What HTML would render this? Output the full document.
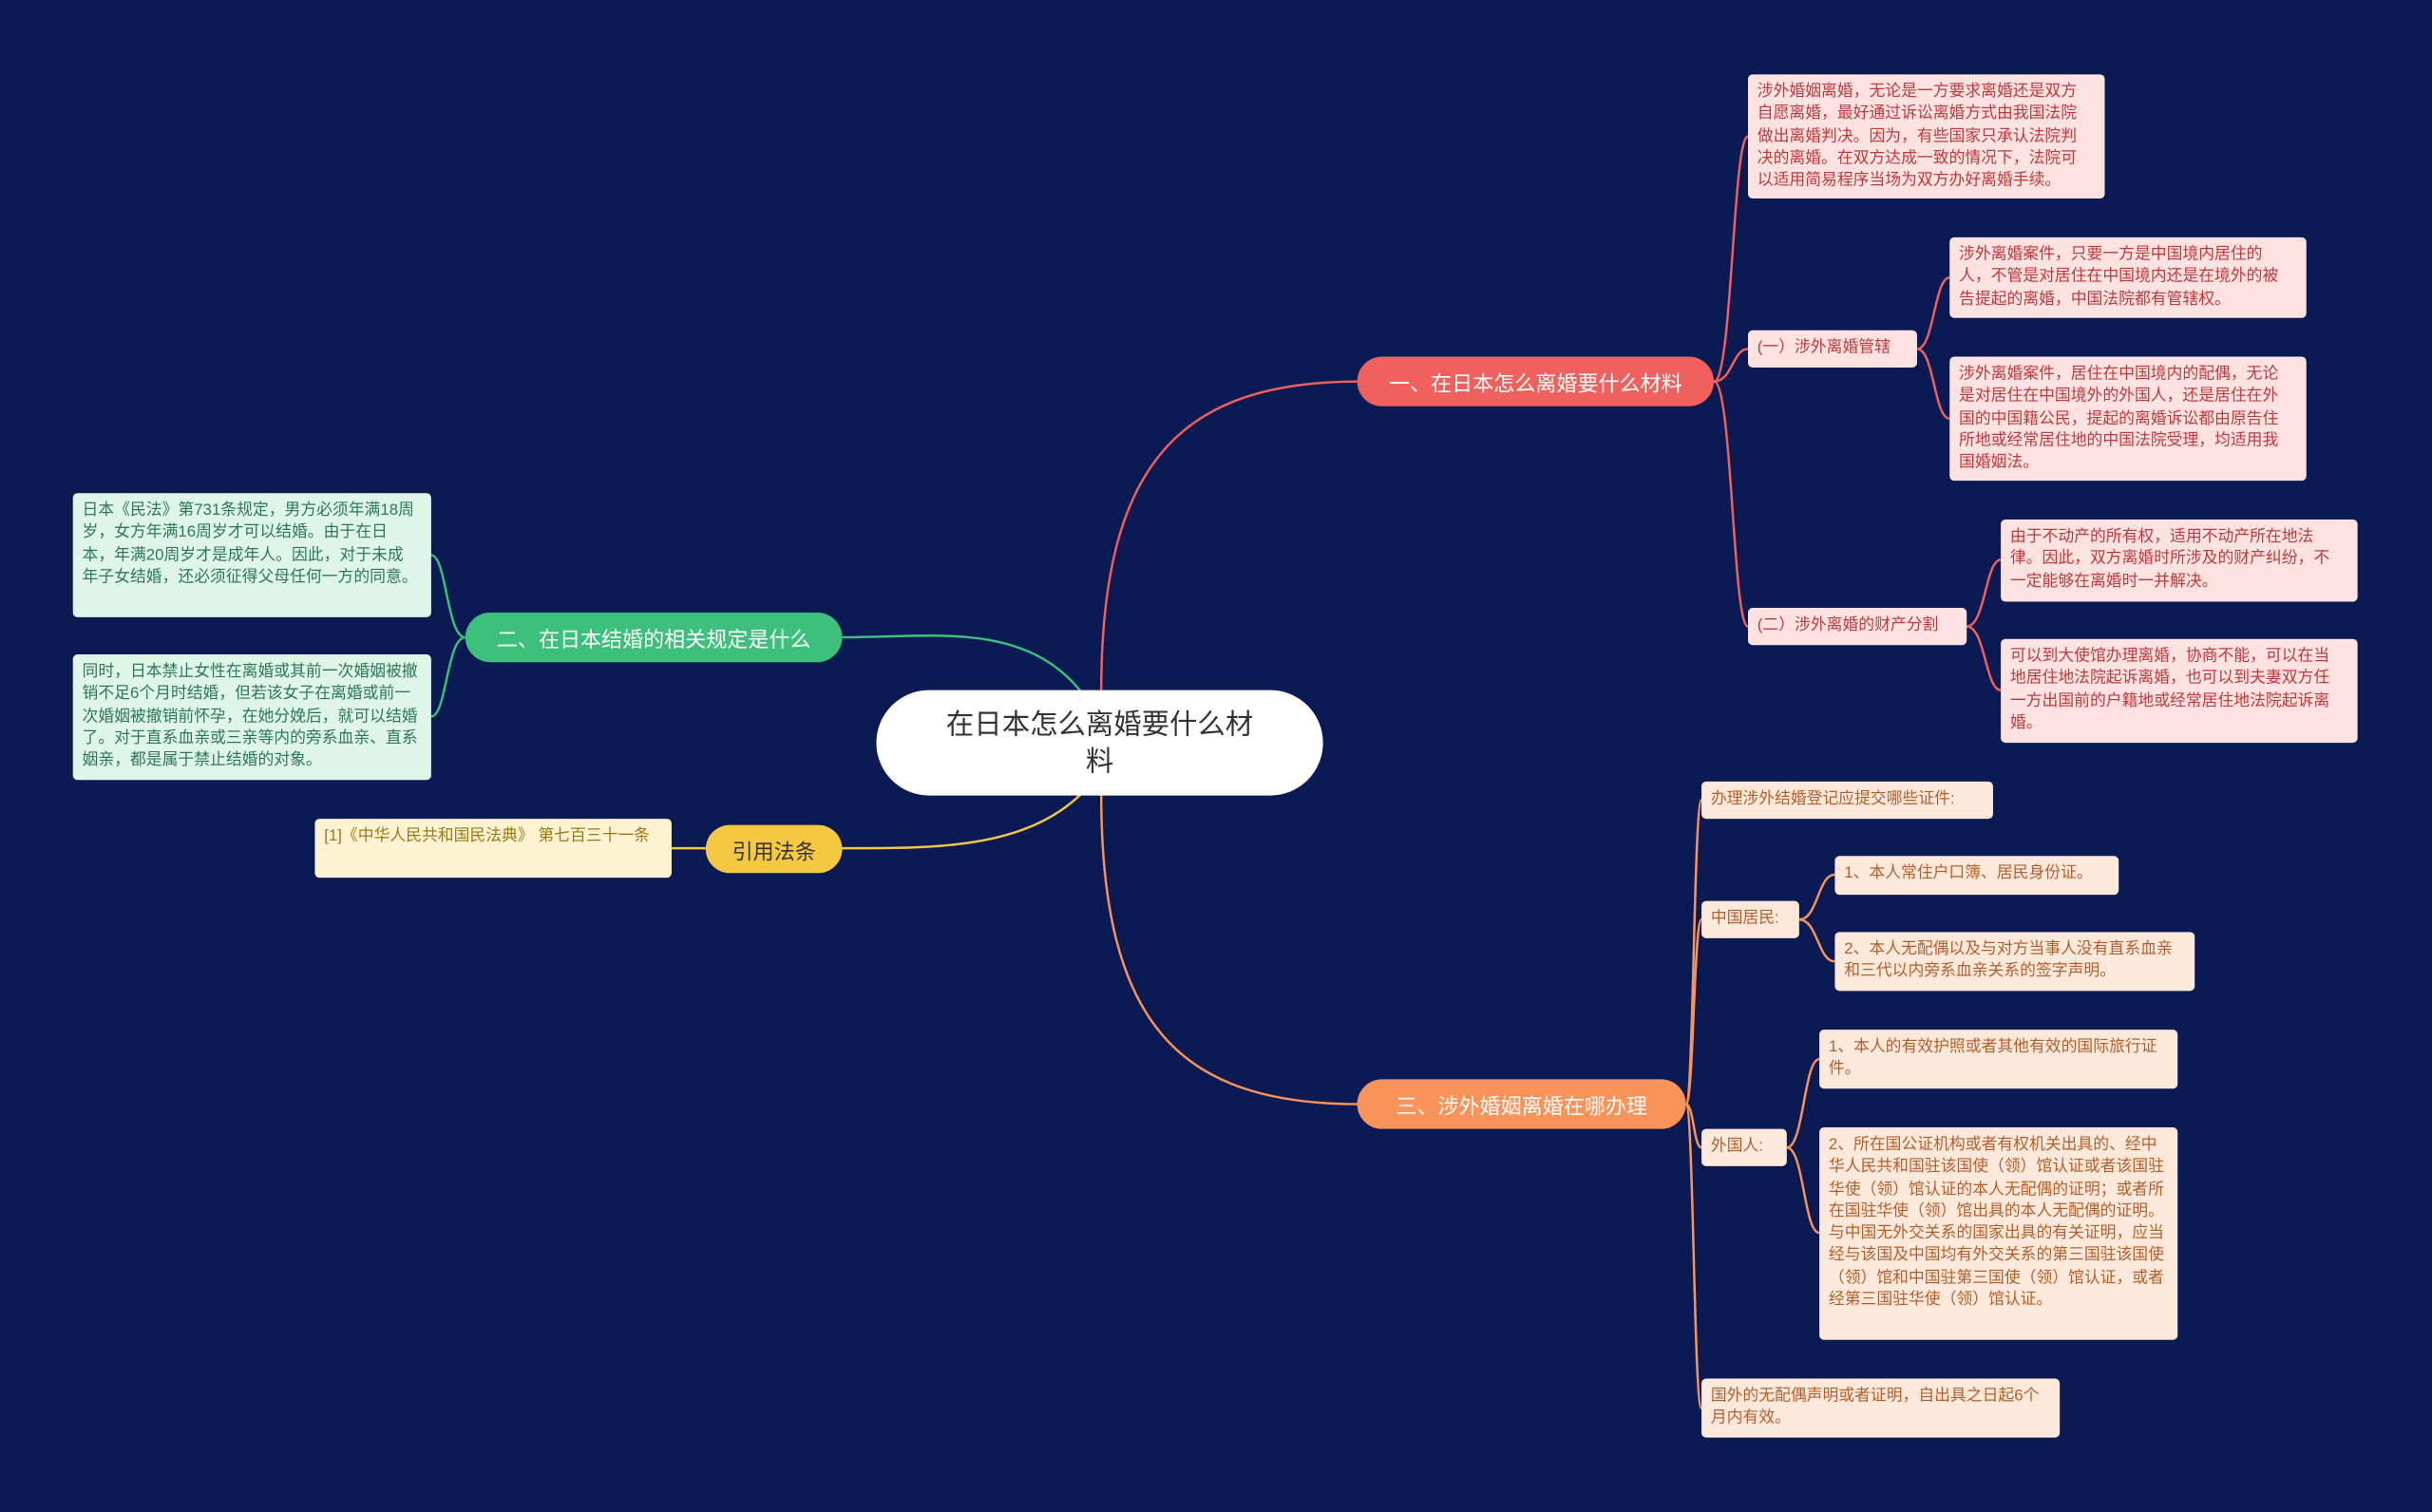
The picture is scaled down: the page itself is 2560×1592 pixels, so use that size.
<!DOCTYPE html>
<html><head><meta charset="utf-8"><style>
html,body{margin:0;padding:0;background:#0b1a52;overflow:hidden;}
body{width:2560px;height:1592px;}
#w{position:absolute;left:0;top:0;width:1568px;height:975px;transform:scale(1.63265,1.6328);transform-origin:0 0;font-family:"Liberation Sans","Noto Sans CJK SC",sans-serif;}
.n{position:absolute;box-sizing:border-box;}
.b{border-radius:16px;color:#fff;font-size:13.5px;display:flex;align-items:center;justify-content:center;}
.l{border-radius:3px;font-size:10.3px;line-height:14.3px;padding:5px 8px 4px 6px;}
.r{background:#fde2e2;color:#c0393b;}
.g{background:#dff5e9;color:#2b7a52;}
.y{background:#fdf3d2;color:#9c7a12;}
.o{background:#fde9dc;color:#b45f2a;}
svg{position:absolute;left:0;top:0;}
</style></head><body><div id="w">
<svg width="1568" height="975" fill="none" stroke-width="1.5">
<path d="M710,446 C710,300 760,246 876,246" stroke="#f0605d"/>
<path d="M697,446 C660,400 600,411 543,411" stroke="#3cc07c"/>
<path d="M697,512 C660,548 600,547 543,547" stroke="#f5c842"/>
<path d="M710,512 C710,660 760,712 876,712" stroke="#f8945a"/>
<g stroke="#f0605d">
<path d="M1105,246 C1117,246 1117,88 1127,88"/>
<path d="M1105,246 C1117,246 1117,225 1127,225"/>
<path d="M1105,246 C1117,246 1117,404 1127,404"/>
<path d="M1236,225 C1247,225 1247,179 1257,179"/>
<path d="M1236,225 C1247,225 1247,270 1257,270"/>
<path d="M1268,404 C1280,404 1280,361 1290,361"/>
<path d="M1268,404 C1280,404 1280,445 1290,445"/>
</g>
<g stroke="#3cc07c">
<path d="M300,411 C288,411 288,358 278,358"/>
<path d="M300,411 C288,411 288,462 278,462"/>
</g>
<path d="M455,547 L433,547" stroke="#f5c842"/>
<g stroke="#f8945a">
<path d="M1087,712 C1092,712 1092,516 1097,516"/>
<path d="M1087,712 C1092,712 1092,593 1097,593"/>
<path d="M1087,712 C1092,712 1092,740 1097,740"/>
<path d="M1087,712 C1092,712 1092,908 1097,908"/>
<path d="M1160,593 C1172,593 1172,564 1183,564"/>
<path d="M1160,593 C1172,593 1172,620 1183,620"/>
<path d="M1152,740 C1163,740 1163,683 1173,683"/>
<path d="M1152,740 C1163,740 1163,795 1173,795"/>
</g>
</svg>
<div class="n" style="left:565px;top:445px;width:288px;height:68px;background:#fff;border-radius:34px;color:#333;font-size:18px;line-height:24px;text-align:center;padding:10px 38px;">在日本怎么离婚要什么材料</div>
<div class="n b" style="left:875px;top:230px;width:230px;height:32px;background:#f0605d;">一、在日本怎么离婚要什么材料</div>
<div class="n b" style="left:300px;top:395px;width:243px;height:32px;background:#3cc07c;">二、在日本结婚的相关规定是什么</div>
<div class="n b" style="left:455px;top:532px;width:88px;height:31px;background:#f5c842;color:#333;">引用法条</div>
<div class="n b" style="left:875px;top:696px;width:212px;height:32px;background:#f8945a;">三、涉外婚姻离婚在哪办理</div>

<div class="n l r" style="left:1127px;top:48px;width:230px;height:80px;">涉外婚姻离婚，无论是一方要求离婚还是双方自愿离婚，最好通过诉讼离婚方式由我国法院做出离婚判决。因为，有些国家只承认法院判决的离婚。在双方达成一致的情况下，法院可以适用简易程序当场为双方办好离婚手续。</div>
<div class="n l r" style="left:1127px;top:213px;width:109px;height:24px;">(一）涉外离婚管辖</div>
<div class="n l r" style="left:1257px;top:153px;width:230px;height:52px;">涉外离婚案件，只要一方是中国境内居住的人，不管是对居住在中国境内还是在境外的被告提起的离婚，中国法院都有管辖权。</div>
<div class="n l r" style="left:1257px;top:230px;width:230px;height:80px;">涉外离婚案件，居住在中国境内的配偶，无论是对居住在中国境外的外国人，还是居住在外国的中国籍公民，提起的离婚诉讼都由原告住所地或经常居住地的中国法院受理，均适用我国婚姻法。</div>
<div class="n l r" style="left:1127px;top:392px;width:141px;height:24px;">(二）涉外离婚的财产分割</div>
<div class="n l r" style="left:1290px;top:335px;width:230px;height:53px;">由于不动产的所有权，适用不动产所在地法律。因此，双方离婚时所涉及的财产纠纷，不一定能够在离婚时一并解决。</div>
<div class="n l r" style="left:1290px;top:412px;width:230px;height:67px;">可以到大使馆办理离婚，协商不能，可以在当地居住地法院起诉离婚，也可以到夫妻双方任一方出国前的户籍地或经常居住地法院起诉离婚。</div>

<div class="n l g" style="left:47px;top:318px;width:231px;height:80px;">日本《民法》第731条规定，男方必须年满18周岁，女方年满16周岁才可以结婚。由于在日本，年满20周岁才是成年人。因此，对于未成年子女结婚，还必须征得父母任何一方的同意。</div>
<div class="n l g" style="left:47px;top:422px;width:231px;height:81px;">同时，日本禁止女性在离婚或其前一次婚姻被撤销不足6个月时结婚，但若该女子在离婚或前一次婚姻被撤销前怀孕，在她分娩后，就可以结婚了。对于直系血亲或三亲等内的旁系血亲、直系姻亲，都是属于禁止结婚的对象。</div>
<div class="n l y" style="left:203px;top:528px;width:230px;height:38px;padding-right:10px;">[1]《中华人民共和国民法典》 第七百三十一条</div>

<div class="n l o" style="left:1097px;top:504px;width:188px;height:24px;">办理涉外结婚登记应提交哪些证件:</div>
<div class="n l o" style="left:1097px;top:581px;width:63px;height:24px;">中国居民:</div>
<div class="n l o" style="left:1183px;top:552px;width:183px;height:25px;">1、本人常住户口簿、居民身份证。</div>
<div class="n l o" style="left:1183px;top:601px;width:232px;height:38px;">2、本人无配偶以及与对方当事人没有直系血亲和三代以内旁系血亲关系的签字声明。</div>
<div class="n l o" style="left:1097px;top:728px;width:55px;height:24px;">外国人:</div>
<div class="n l o" style="left:1173px;top:664px;width:231px;height:38px;">1、本人的有效护照或者其他有效的国际旅行证件。</div>
<div class="n l o" style="left:1173px;top:727px;width:231px;height:137px;">2、所在国公证机构或者有权机关出具的、经中华人民共和国驻该国使（领）馆认证或者该国驻华使（领）馆认证的本人无配偶的证明；或者所在国驻华使（领）馆出具的本人无配偶的证明。与中国无外交关系的国家出具的有关证明，应当经与该国及中国均有外交关系的第三国驻该国使（领）馆和中国驻第三国使（领）馆认证，或者经第三国驻华使（领）馆认证。</div>
<div class="n l o" style="left:1097px;top:889px;width:231px;height:38px;">国外的无配偶声明或者证明，自出具之日起6个月内有效。</div>
</div></body></html>
